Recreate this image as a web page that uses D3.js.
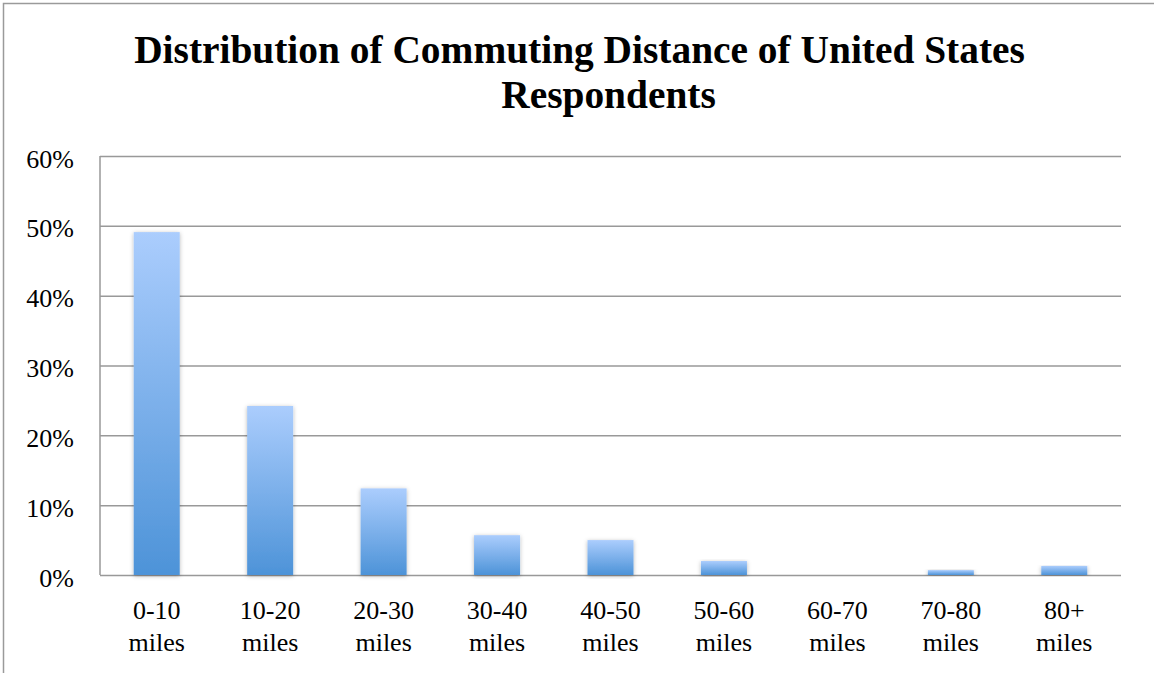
<!DOCTYPE html>
<html>
<head>
<meta charset="utf-8">
<script src="https://cdn.jsdelivr.net/npm/d3@7"></script>
<style>
  html, body { margin: 0; padding: 0; background: #fff; }
  svg { display: block; }
</style>
</head>
<body>
<script>
// Commuting distance bands and share of respondents in each
const categories = ["0-10 miles", "10-20 miles", "20-30 miles", "30-40 miles", "40-50 miles",
                    "50-60 miles", "60-70 miles", "70-80 miles", "80+ miles"];
const shares = [0.491, 0.242, 0.124, 0.057, 0.050, 0.020, 0.000, 0.007, 0.013];
const yTicks = [0, 0.1, 0.2, 0.3, 0.4, 0.5, 0.6];
const titleLines = ["Distribution of Commuting Distance of United States", "Respondents"];

const W = 1154, H = 673;
const plot = { left: 100, right: 1121, top: 156, bottom: 575 };
const labelFont = "'Liberation Serif', 'Times New Roman', serif";

const svg = d3.select("body").append("svg")
  .attr("width", W).attr("height", H);

// bar fill gradient and soft shadow
const defs = svg.append("defs");
const grad = defs.append("linearGradient")
  .attr("id", "barFill").attr("x1", 0).attr("y1", 0).attr("x2", 0).attr("y2", 1);
grad.append("stop").attr("offset", "0%").attr("stop-color", "#abcdfd");
grad.append("stop").attr("offset", "100%").attr("stop-color", "#4d93d8");
const shadow = defs.append("filter").attr("id", "barShadow")
  .attr("x", "-30%").attr("y", "-10%").attr("width", "160%").attr("height", "120%");
shadow.append("feDropShadow").attr("dx", 0).attr("dy", 1).attr("stdDeviation", 2)
  .attr("flood-color", "#000").attr("flood-opacity", 0.28);

// chart frame (continues past the right and bottom edges)
svg.append("rect")
  .attr("x", 3.5).attr("y", 3.5).attr("width", W + 20).attr("height", H + 20)
  .attr("fill", "none").attr("stroke", "#9a9a9a").attr("stroke-width", 1.5);

// title, first line sized to its measured width
const title = svg.append("g");
const t1 = title.append("text")
  .attr("x", 579.5).attr("y", 63)
  .attr("text-anchor", "middle")
  .attr("font-family", labelFont).attr("font-weight", "bold")
  .attr("font-size", 36).attr("fill", "#000")
  .text(titleLines[0]);
const w1 = t1.node().getComputedTextLength();
const titleSize = 36 * 891 / w1;
t1.attr("font-size", titleSize);
title.append("text")
  .attr("x", 608.5).attr("y", 108)
  .attr("text-anchor", "middle")
  .attr("font-family", labelFont).attr("font-weight", "bold")
  .attr("font-size", titleSize).attr("fill", "#000")
  .text(titleLines[1]);

const x = d3.scaleBand()
  .domain(categories)
  .range([plot.left, plot.right])
  .paddingInner(0.5945)
  .paddingOuter(0.5945 / 2);

const y = d3.scaleLinear()
  .domain([0, 0.6])
  .range([plot.bottom, plot.top]);

// horizontal gridlines and value axis
const yAxis = svg.append("g")
  .attr("transform", `translate(${plot.left},0)`)
  .call(d3.axisLeft(y).tickValues(yTicks).tickFormat(d3.format(".0%"))
    .tickSize(-(plot.right - plot.left)).tickPadding(26));
yAxis.select(".domain").attr("stroke", "#999").attr("stroke-width", 1.5)
  .attr("d", `M0,${plot.top}V${plot.bottom}`);
yAxis.selectAll(".tick line").attr("stroke", "#999").attr("stroke-width", 1.5);
yAxis.selectAll(".tick text")
  .attr("font-family", labelFont).attr("font-size", 26).attr("fill", "#000")
  .attr("dy", null).attr("y", 11);

// bars
svg.append("g").selectAll("rect")
  .data(categories.map((c, i) => ({ c, v: shares[i] })).filter(d => d.v > 0))
  .join("rect")
  .attr("x", d => x(d.c))
  .attr("width", x.bandwidth())
  .attr("y", d => y(d.v))
  .attr("height", d => y(0) - y(d.v))
  .attr("fill", "url(#barFill)")
  .attr("filter", "url(#barShadow)");

// category labels on two lines
const xAxis = svg.append("g")
  .attr("transform", `translate(0,${plot.bottom})`)
  .call(d3.axisBottom(x).tickSize(0).tickFormat(""));
xAxis.select(".domain").remove();
xAxis.selectAll(".tick").each(function(d) {
  const parts = d.split(" ");
  const t = d3.select(this).select("text")
    .attr("font-family", labelFont).attr("font-size", 26).attr("fill", "#000")
    .attr("dy", null).attr("y", null);
  t.selectAll("tspan").data(parts).join("tspan")
    .attr("x", 0)
    .attr("y", (p, i) => 44 + i * 32)
    .text(p => p);
});
</script>
</body>
</html>
